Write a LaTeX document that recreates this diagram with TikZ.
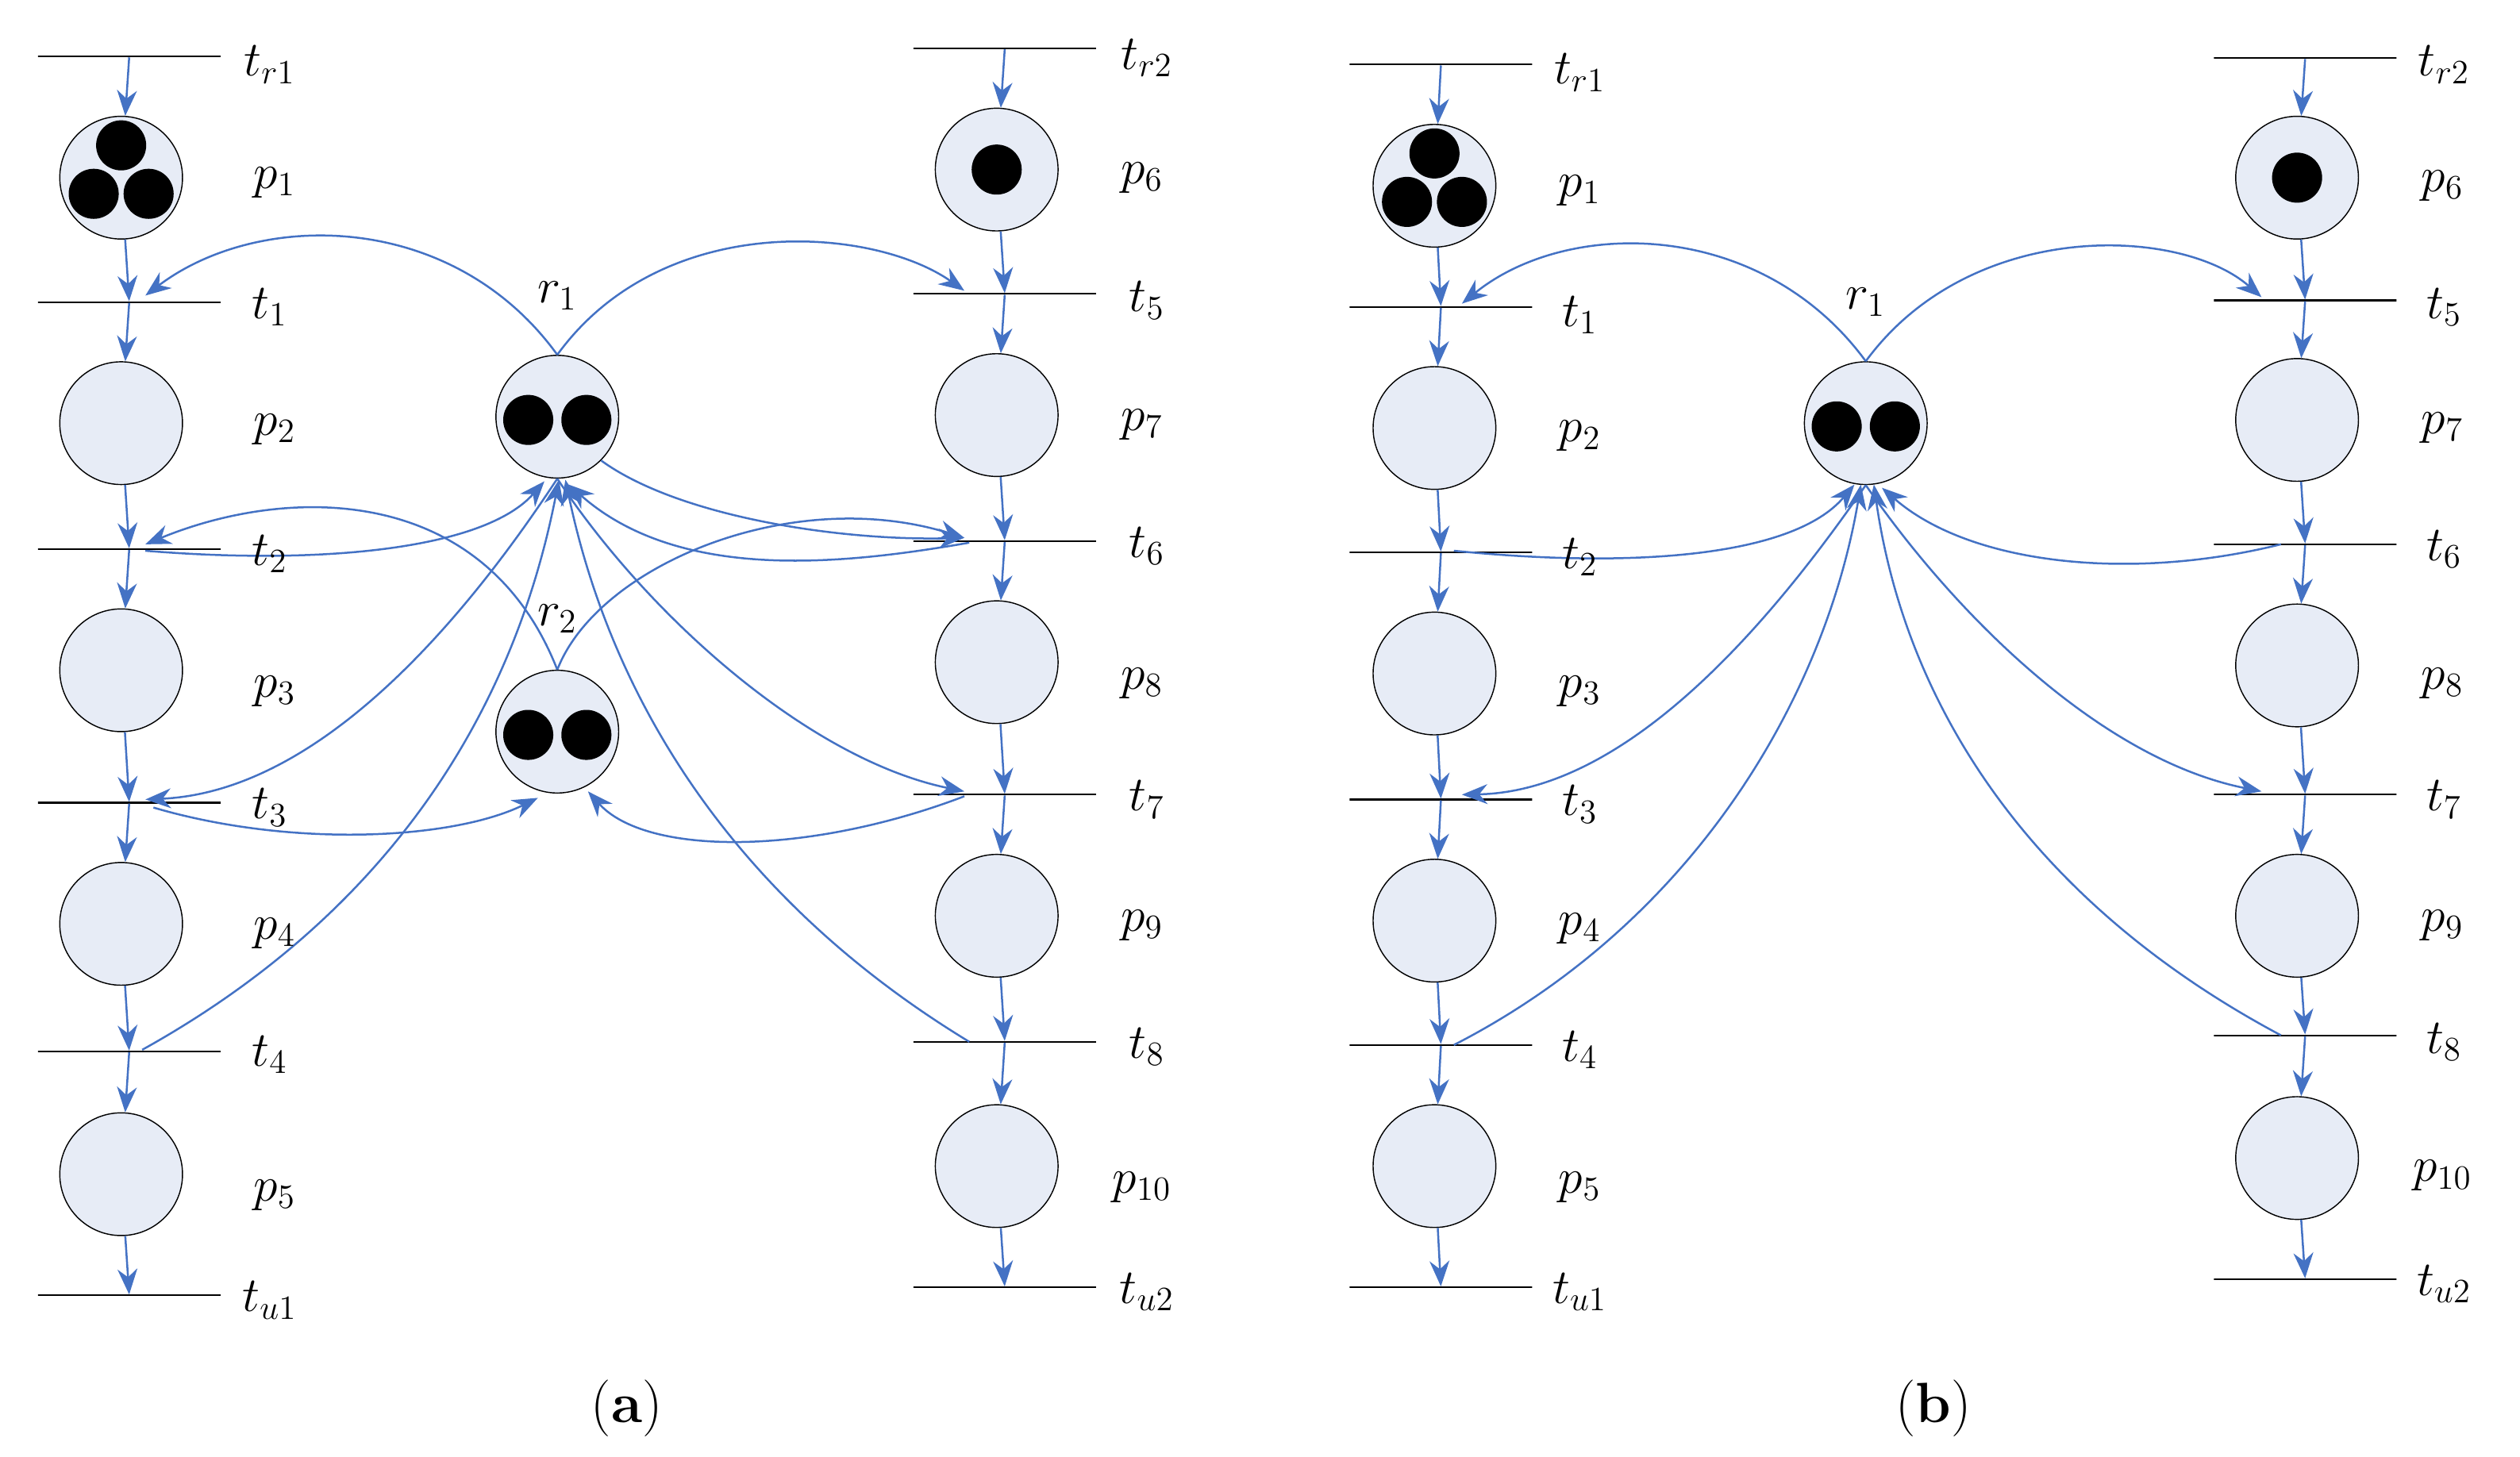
\documentclass[tikz,border=0pt]{standalone}
\usetikzlibrary{arrows.meta,calc}
\definecolor{arcblue}{RGB}{68,114,196}
\definecolor{pfill}{RGB}{231,236,246}
\begin{document}
\begin{tikzpicture}[x=0.02cm,y=-0.02cm,
 place/.style={circle,draw,fill=pfill,minimum size=1.52cm,inner sep=0pt},
 trans/.style={draw,minimum width=2.26cm,minimum height=0pt,inner sep=0pt,line width=0.6pt},
 arc/.style={draw=arcblue,line width=0.7pt,-{Stealth[length=9pt,width=7pt,fill=arcblue]}},
 tok/.style={circle,fill=black,minimum size=0.62cm,inner sep=0pt},
 lab/.style={font=\fontsize{17}{20}\selectfont\itshape}]
\useasboundingbox (0,0) rectangle (1560,902);
% ---------- panel (a) ----------
\foreach \n/\y in {tra1/35,ta1/187,ta2/340,ta3/497,ta4/651,tua1/802}{\node[trans] (\n) at (80,\y) {};}
\foreach \n/\y in {tra2/30,ta5/182,ta6/335,ta7/492,ta8/645,tua2/797}{\node[trans] (\n) at (622,\y) {};}
\foreach \n/\y in {pa1/110,pa2/262,pa3/415,pa4/572,pa5/727}{\node[place] (\n) at (75,\y) {};}
\foreach \n/\y in {pa6/105,pa7/257,pa8/410,pa9/567,pa10/722}{\node[place] (\n) at (617,\y) {};}
\node[place] (ra1) at (345,258) {};
\node[place] (ra2) at (345,453) {};
\node[tok] (k1) at (75,90) {}; \node[tok] (k2) at (58,120) {}; \node[tok] (k3) at (92,120) {};
\node[tok] (k4) at (617,105) {};
\node[tok] (k5) at (327,260) {}; \node[tok] (k6) at (363,260) {};
\node[tok] (k7) at (327,455) {}; \node[tok] (k8) at (363,455) {};
\foreach \a/\b in {tra1/pa1,pa1/ta1,ta1/pa2,pa2/ta2,ta2/pa3,pa3/ta3,ta3/pa4,pa4/ta4,ta4/pa5,pa5/tua1,
 tra2/pa6,pa6/ta5,ta5/pa7,pa7/ta6,ta6/pa8,pa8/ta7,ta7/pa9,pa9/ta8,ta8/pa10,pa10/tua2}{\draw[arc] (\a) -- (\b);}
\draw[arc] (ra1.north) .. controls (280,130) and (160,130) .. (90,183);
\draw[arc] (ra1.north) .. controls (410,130) and (540,140) .. (597,180);
\draw[arc] (90,341) .. controls (200,350) and (300,340) .. (337,298);
\draw[arc] (ra2.north) .. controls (300,300) and (180,300) .. (90,337);
\draw[arc] (ra1.south east) .. controls (420,320) and (520,335) .. (597,333);
\draw[arc] (600,336) .. controls (520,350) and (420,360) .. (352,300);
\draw[arc] (ra2.north) .. controls (370,350) and (490,300) .. (597,333);
\draw[arc] (ra1.south) .. controls (290,380) and (200,490) .. (90,495);
\draw[arc] (95,500) .. controls (180,525) and (280,520) .. (333,494);
\draw[arc] (88,650) .. controls (250,560) and (320,430) .. (346,297);
\draw[arc] (ra1.south) .. controls (400,380) and (500,470) .. (597,490);
\draw[arc] (597,493) .. controls (500,530) and (400,530) .. (364,490);
\draw[arc] (600,645) .. controls (460,560) and (380,440) .. (350,297);
% labels (a)
\foreach \t/\y in {t_{r1}/40,t_1/190,t_2/343,t_3/500,t_4/653,t_{u1}/805}{\node[lab] at (167,\y) {$\t$};}
\foreach \t/\y in {p_1/113,p_2/266,p_3/428,p_4/578,p_5/740}{\node[lab] at (170,\y) {$\t$};}
\foreach \t/\y in {t_{r2}/36,t_5/186,t_6/338,t_7/495,t_8/648,t_{u2}/800}{\node[lab] at (710,\y) {$\t$};}
\foreach \t/\y in {p_6/110,p_7/263,p_8/423,p_9/573,p_{10}/735}{\node[lab] at (707,\y) {$\t$};}
\node[lab] at (345,183) {$r_1$};
\node[lab] at (345,383) {$r_2$};
\node[font=\fontsize{20}{24}\selectfont] at (388,872) {(\textbf{a})};
% ---------- panel (b) ----------
\foreach \n/\y in {trb1/40,tb1/190,tb2/342,tb3/495,tb4/647,tub1/797}{\node[trans] (\n) at (892,\y) {};}
\foreach \n/\y in {trb2/36,tb5/186,tb6/337,tb7/492,tb8/641,tub2/792}{\node[trans] (\n) at (1427,\y) {};}
\foreach \n/\y in {pb1/115,pb2/265,pb3/417,pb4/570,pb5/722}{\node[place] (\n) at (888,\y) {};}
\foreach \n/\y in {pb6/110,pb7/260,pb8/412,pb9/567,pb10/717}{\node[place] (\n) at (1422,\y) {};}
\node[place] (rb1) at (1155,262) {};
\node[tok] (m1) at (888,95) {}; \node[tok] (m2) at (871,125) {}; \node[tok] (m3) at (905,125) {};
\node[tok] (m4) at (1422,110) {};
\node[tok] (m5) at (1137,264) {}; \node[tok] (m6) at (1173,264) {};
\foreach \a/\b in {trb1/pb1,pb1/tb1,tb1/pb2,pb2/tb2,tb2/pb3,pb3/tb3,tb3/pb4,pb4/tb4,tb4/pb5,pb5/tub1,
 trb2/pb6,pb6/tb5,tb5/pb7,pb7/tb6,tb6/pb8,pb8/tb7,tb7/pb9,pb9/tb8,tb8/pb10,pb10/tub2}{\draw[arc] (\a) -- (\b);}
\draw[arc] (rb1.north) .. controls (1090,135) and (970,135) .. (905,188);
\draw[arc] (rb1.north) .. controls (1220,135) and (1350,140) .. (1400,184);
\draw[arc] (900,341) .. controls (1010,352) and (1110,345) .. (1148,300);
\draw[arc] (1412,337) .. controls (1320,360) and (1220,350) .. (1165,302);
\draw[arc] (rb1.south) .. controls (1100,380) and (1010,490) .. (905,492);
\draw[arc] (rb1.south) .. controls (1210,380) and (1300,470) .. (1400,490);
\draw[arc] (900,647) .. controls (1050,570) and (1130,430) .. (1152,300);
\draw[arc] (1412,641) .. controls (1260,560) and (1180,440) .. (1160,300);
% labels (b)
\foreach \t/\y in {t_{r1}/45,t_1/195,t_2/345,t_3/498,t_4/650,t_{u1}/800}{\node[lab] at (978,\y) {$\t$};}
\foreach \t/\y in {p_1/118,p_2/270,p_3/428,p_4/575,p_5/735}{\node[lab] at (978,\y) {$\t$};}
\foreach \t/\y in {t_{r2}/40,t_5/190,t_6/340,t_7/495,t_8/645,t_{u2}/795}{\node[lab] at (1513,\y) {$\t$};}
\foreach \t/\y in {p_6/115,p_7/265,p_8/423,p_9/573,p_{10}/728}{\node[lab] at (1512,\y) {$\t$};}
\node[lab] at (1155,187) {$r_1$};
\node[font=\fontsize{20}{24}\selectfont] at (1197,872) {(\textbf{b})};
\end{tikzpicture}
\end{document}
